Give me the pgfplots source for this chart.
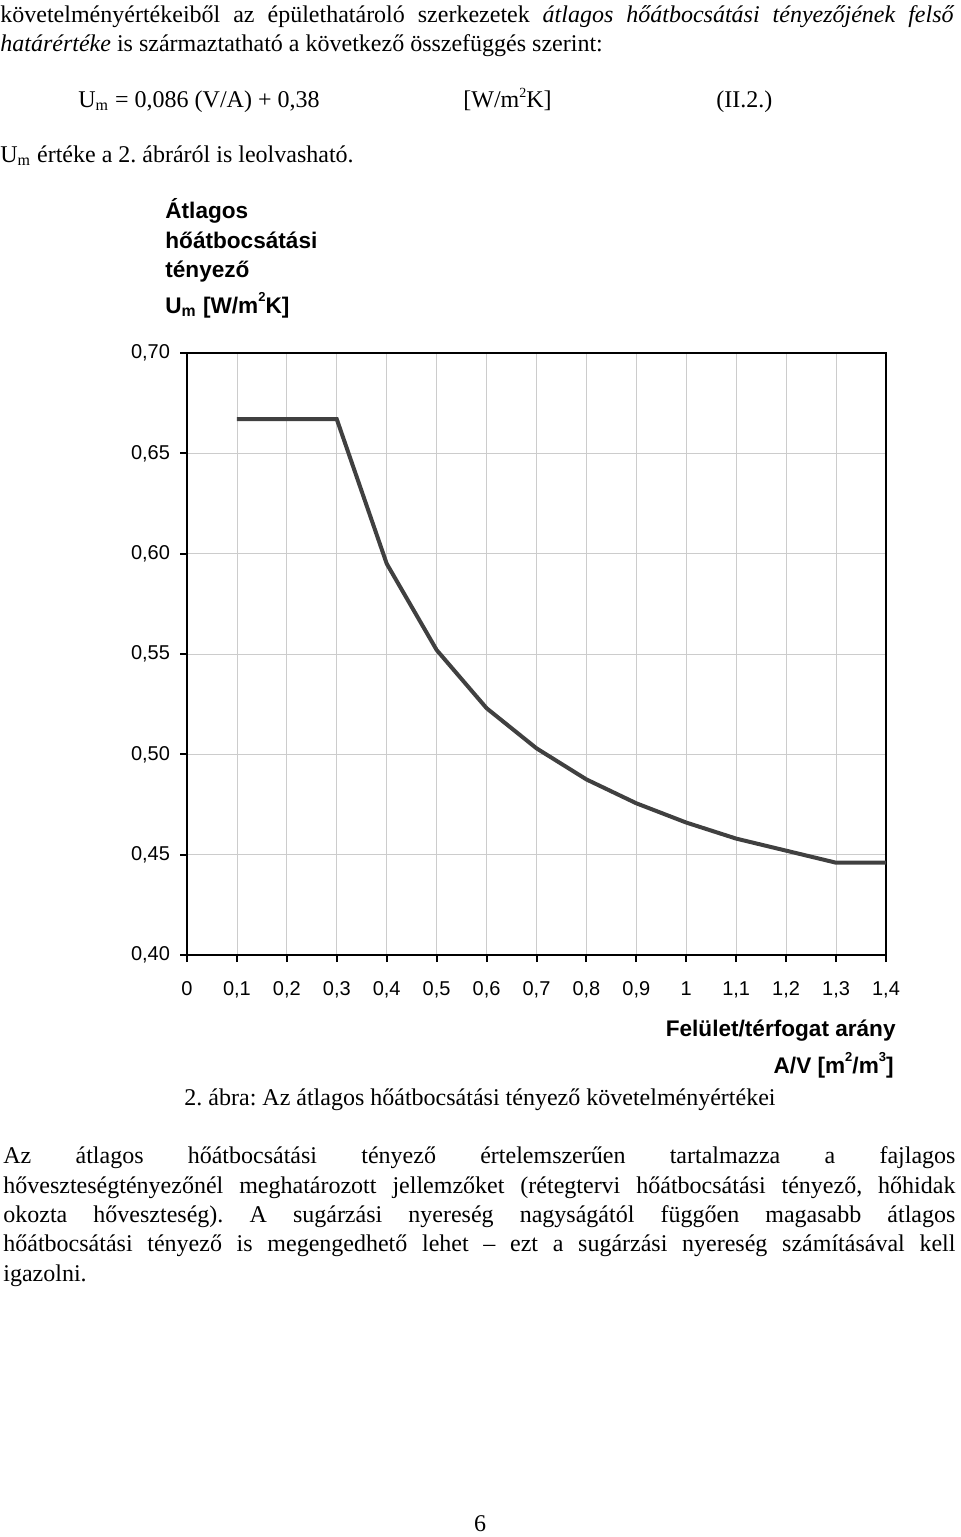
\documentclass[border=0pt]{standalone}
\usepackage{pgfplots}
\pgfplotsset{compat=1.18}
\usepackage{fontspec}
\setmainfont{Liberation Serif}
\newfontfamily\arial{Liberation Sans}
\definecolor{linegray}{HTML}{404040}
\frenchspacing
\newcommand{\body}{\fontsize{12}{14.75}\selectfont}
\newcommand{\ttl}{\arial\bfseries\fontsize{11.3}{13}\selectfont}
\newcommand{\sps}[1]{\raisebox{0.9ex}{\fontsize{7}{8}\selectfont #1}}
\newcommand{\spt}[1]{\raisebox{0.95ex}{\fontsize{6.5}{8}\selectfont #1}}
\begin{document}
\begin{tikzpicture}[x=0.5pt,y=0.5pt]
\useasboundingbox (0,0) rectangle (960,-1537);
% top text
\node[anchor=base west, inner sep=0] at (0,-22) {\body\makebox[477pt][s]{követelményértékeiből az épülethatároló szerkezetek \textit{átlagos hőátbocsátási tényezőjének felső}}};
\node[anchor=base west, inner sep=0] at (0,-51) {\body\textit{határértéke} is származtatható a következő összefüggés szerint:};
\node[anchor=base west, inner sep=0] at (78,-107) {\body U\textsubscript{m} = 0,086 (V/A) + 0,38};
\node[anchor=base west, inner sep=0] at (463,-107) {\body [W/m\sps{2}K]};
\node[anchor=base west, inner sep=0] at (716,-107) {\body (II.2.)};
\node[anchor=base west, inner sep=0] at (0,-162) {\body U\textsubscript{m} értéke a 2. ábráról is leolvasható.};
% chart title
\node[anchor=base west, inner sep=0] at (165,-218) {\ttl Átlagos};
\node[anchor=base west, inner sep=0] at (165,-248) {\ttl hőátbocsátási};
\node[anchor=base west, inner sep=0] at (165,-277) {\ttl tényező};
\node[anchor=base west, inner sep=0] at (165,-313) {\ttl U\textsubscript{m} [W/m\spt{2}K]};
\begin{axis}[
  at={(93.5pt,-477.5pt)}, anchor=south west,
  scale only axis, width=349.5pt, height=301pt,
  xmin=0, xmax=1.4, ymin=0.4, ymax=0.7,
  xtick={0,0.1,0.2,0.3,0.4,0.5,0.6,0.7,0.8,0.9,1,1.1,1.2,1.3,1.4},
  xticklabels={0,{0,1},{0,2},{0,3},{0,4},{0,5},{0,6},{0,7},{0,8},{0,9},1,{1,1},{1,2},{1,3},{1,4}},
  ytick={0.4,0.45,0.5,0.55,0.6,0.65,0.7},
  yticklabels={{0,40},{0,45},{0,50},{0,55},{0,60},{0,65},{0,70}},
  tick pos=left, tick align=outside, major tick length=3.5pt,
  grid=major, major grid style={gray!40, line width=0.4pt},
  axis line style={black, line width=1pt},
  tick style={black, line width=1pt},
  tick label style={font=\arial\fontsize{10}{12}\selectfont},
  xticklabel style={text height=7.2pt, text depth=2pt, yshift=-6pt},
  yticklabel style={xshift=-1.5pt},
]
\addplot[linegray, line width=2pt, line join=miter] coordinates {
  (0.1,0.667) (0.3,0.667) (0.4,0.595) (0.5,0.552) (0.6,0.523) (0.7,0.503)
  (0.8,0.4875) (0.9,0.4756) (1.0,0.466) (1.1,0.458) (1.2,0.452) (1.3,0.446) (1.4,0.446)
};
\end{axis}
% axis title
\node[anchor=base east, inner sep=0] at (896,-1036) {\ttl Felület/térfogat arány};
\node[anchor=base east, inner sep=0] at (894,-1073) {\ttl A/V [m\spt{2}/m\spt{3}]};
% caption
\node[anchor=base, inner sep=0] at (480,-1105) {\body 2. ábra: Az átlagos hőátbocsátási tényező követelményértékei};
% paragraph
\node[anchor=base west, inner sep=0] at (3,-1163) {\body\makebox[476pt][s]{Az átlagos hőátbocsátási tényező értelemszerűen tartalmazza a fajlagos}};
\node[anchor=base west, inner sep=0] at (3,-1193) {\body\makebox[476pt][s]{hőveszteségtényezőnél meghatározott jellemzőket (rétegtervi hőátbocsátási tényező, hőhidak}};
\node[anchor=base west, inner sep=0] at (3,-1222) {\body\makebox[476pt][s]{okozta hőveszteség). A sugárzási nyereség nagyságától függően magasabb átlagos}};
\node[anchor=base west, inner sep=0] at (3,-1251) {\body\makebox[476pt][s]{hőátbocsátási tényező is megengedhető lehet – ezt a sugárzási nyereség számításával kell}};
\node[anchor=base west, inner sep=0] at (3,-1281) {\body igazolni.};
% page number
\node[anchor=base, inner sep=0] at (480,-1531) {\body 6};
\end{tikzpicture}
\end{document}
